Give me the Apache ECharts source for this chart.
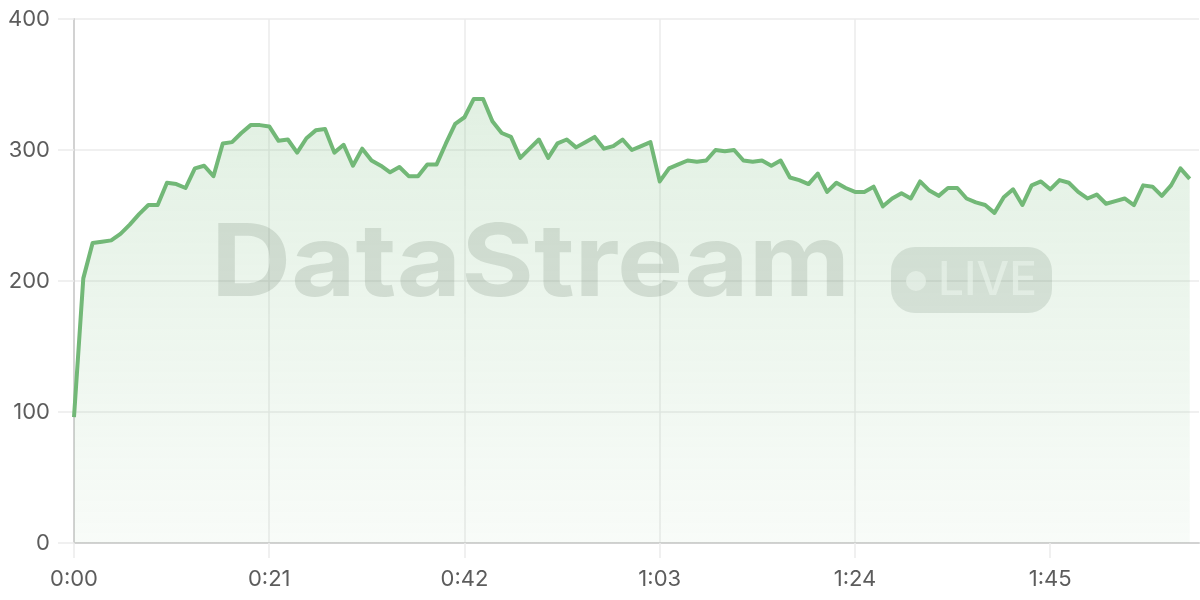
<!DOCTYPE html>
<html>
<head>
<meta charset="utf-8">
<script src="https://cdn.jsdelivr.net/npm/echarts@6/dist/echarts.min.js"></script>
<style>
  html, body { margin: 0; padding: 0; background: #fff; }
  #chart { width: 1200px; height: 600px; }
</style>
</head>
<body>
<div id="chart"></div>
<script>
// one reading per second, 0:00 .. 2:00
const values = [
  96, 202, 229, 230, 231, 236, 243, 251, 258, 258,
  275, 274, 271, 286, 288, 280, 305, 306, 313, 319,
  319, 318, 307, 308, 298, 309, 315, 316, 298, 304,
  288, 301, 292, 288, 283, 287, 280, 280, 289, 289,
  305, 320, 325, 339, 339, 322, 313, 310, 294, 301,
  308, 294, 305, 308, 302, 306, 310, 301, 303, 308,
  300, 303, 306, 276, 286, 289, 292, 291, 292, 300,
  299, 300, 292, 291, 292, 288, 292, 279, 277, 274,
  282, 268, 275, 271, 268, 268, 272, 257, 263, 267,
  263, 276, 269, 265, 271, 271, 263, 260, 258, 252,
  264, 270, 258, 273, 276, 270, 277, 275, 268, 263,
  266, 259, 261, 263, 258, 273, 272, 265, 273, 286,
  278
]
const timeTicks = [0, 21, 42, 63, 84, 105]
const yTicks = [0, 100, 200, 300, 400]

const lineColor = '#72b877'
const gridColor = '#ebebeb'
const axisColor = '#d2d2d2'
const labelColor = '#5c5c5c'

function fmtTime(s) {
  const m = Math.floor(s / 60)
  const r = s % 60
  return m + ':' + (r < 10 ? '0' + r : r)
}

const chart = echarts.init(document.getElementById('chart'), null, { renderer: 'canvas' })

const option = {
  animation: false,
  textStyle: { fontFamily: 'Inter, "Noto Sans", sans-serif' },
  grid: { left: 74, right: 1, top: 19, bottom: 57, containLabel: false },
  xAxis: {
    type: 'value',
    min: 0,
    max: 121,
    interval: 21,
    axisLine: { show: true, lineStyle: { color: axisColor, width: 2 } },
    axisTick: { show: true, length: 15, customValues: timeTicks, lineStyle: { color: gridColor, width: 1.5 } },
    splitLine: { show: true, showMaxLine: false, lineStyle: { color: gridColor, width: 1.5 } },
    axisLabel: {
      color: labelColor,
      fontSize: 22,
      margin: 25,
      customValues: timeTicks,
      formatter: v => fmtTime(v)
    }
  },
  yAxis: {
    type: 'value',
    min: yTicks[0],
    max: yTicks[yTicks.length - 1],
    interval: 100,
    axisLine: { show: true, lineStyle: { color: axisColor, width: 2 } },
    axisTick: { show: true, length: 16, lineStyle: { color: gridColor, width: 1.5 } },
    splitLine: { show: true, lineStyle: { color: gridColor, width: 1.5 } },
    axisLabel: { color: labelColor, fontSize: 22, margin: 24 }
  },
  graphic: [
    {
      type: 'text',
      z: 1,
      silent: true,
      x: 211,
      y: 266,
      scaleX: 1.11,
      style: {
        text: 'DataStream',
        font: 'bold 100px Inter, "Noto Sans", sans-serif',
        fill: 'rgba(70, 85, 72, 0.17)',
        textVerticalAlign: 'middle'
      }
    },
    {
      type: 'rect',
      z: 1,
      silent: true,
      shape: { x: 891, y: 247, width: 161, height: 66, r: 24 },
      style: { fill: 'rgba(70, 85, 72, 0.15)' }
    },
    {
      type: 'circle',
      z: 2,
      silent: true,
      shape: { cx: 916, cy: 281, r: 10 },
      style: { fill: 'rgba(255, 255, 255, 0.62)' }
    },
    {
      type: 'text',
      z: 2,
      silent: true,
      x: 938,
      y: 281,
      style: {
        text: 'LIVE',
        font: '500 46px Inter, "Noto Sans", sans-serif',
        fill: 'rgba(255, 255, 255, 0.62)',
        textVerticalAlign: 'middle'
      }
    }
  ],
  series: [
    {
      type: 'line',
      data: values.map((v, i) => [i, v]),
      showSymbol: false,
      smooth: false,
      z: 3,
      lineStyle: { color: lineColor, width: 4, join: 'round' },
      areaStyle: {
        color: {
          type: 'linear', x: 0, y: 0, x2: 0, y2: 1,
          colorStops: [
            { offset: 0, color: 'rgba(116, 185, 121, 0.30)' },
            { offset: 1, color: 'rgba(116, 185, 121, 0.07)' }
          ]
        }
      }
    }
  ]
}

chart.setOption(option)
</script>
</body>
</html>
